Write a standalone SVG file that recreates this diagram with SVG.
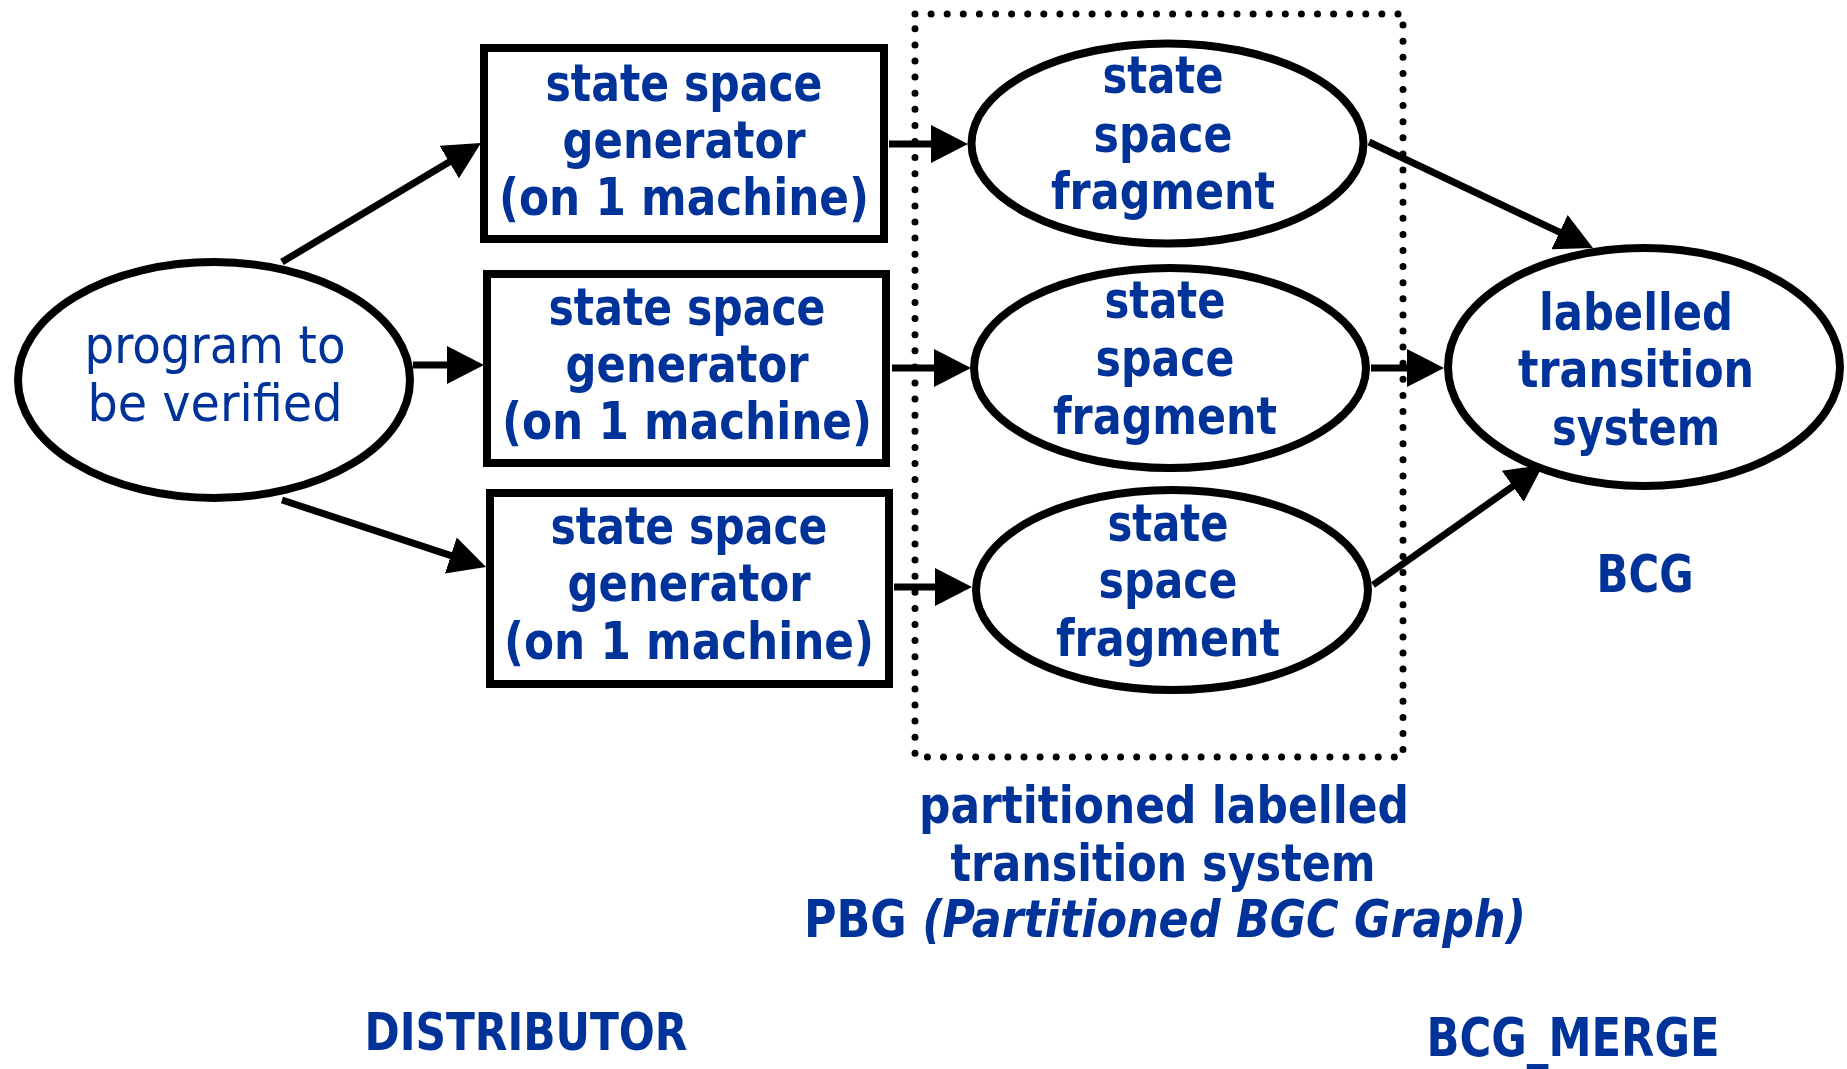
<svg xmlns="http://www.w3.org/2000/svg" width="1847" height="1069" viewBox="0 0 1847 1069">
  <style>
    .shape { fill: #ffffff; stroke: #000000; stroke-width: 8; }
    .edge { fill: none; stroke: #000000; stroke-width: 7; marker-end: url(#head); }
    .frame { fill: none; stroke: #000000; stroke-width: 7; stroke-linecap: round; stroke-dasharray: 0 16.1; }
    text { font-family: "DejaVu Sans Condensed", "DejaVu Sans", sans-serif; font-stretch: condensed; font-size: 51px; fill: #003399; text-anchor: middle; }
    .b { font-weight: bold; }
    .it { font-style: italic; }
  </style>
  <defs>
    <!-- filled arrowhead; the line stops 20px short of the tip -->
    <marker id="head" viewBox="0 0 37 38" refX="17" refY="19" markerWidth="37" markerHeight="38" markerUnits="userSpaceOnUse" orient="auto">
      <path d="M0,0 L37,19 L0,38 Z" fill="#000000"/>
    </marker>
  </defs>

  <rect width="1847" height="1069" fill="#ffffff"/>

  <!-- partition boundary around the fragments -->
  <rect id="partition" class="frame" x="915" y="14" width="488" height="743"/>

  <g id="connectors">
    <line class="edge" x1="282" y1="262" x2="463.8" y2="153.3"/>
    <line class="edge" x1="413" y1="365" x2="464" y2="365"/>
    <line class="edge" x1="282" y1="500" x2="467" y2="560.8"/>
    <line class="edge" x1="889" y1="144" x2="948" y2="144"/>
    <line class="edge" x1="892" y1="368" x2="951" y2="368"/>
    <line class="edge" x1="894" y1="587" x2="952" y2="587"/>
    <line class="edge" x1="1369" y1="142" x2="1574.9" y2="239.4"/>
    <line class="edge" x1="1371" y1="368" x2="1424" y2="368"/>
    <line class="edge" x1="1373" y1="585" x2="1526.7" y2="476.5"/>
  </g>

  <g id="program">
    <ellipse class="shape" cx="214" cy="380" rx="196" ry="118"/>
    <text x="215" y="363" textLength="261" lengthAdjust="spacingAndGlyphs">program to</text>
    <text x="215" y="421" textLength="255" lengthAdjust="spacingAndGlyphs">be verified</text>
  </g>

  <g id="generator1">
    <rect class="shape" x="484" y="48" width="400" height="191"/>
    <text class="b" x="684" y="101" textLength="277" lengthAdjust="spacingAndGlyphs">state space</text>
    <text class="b" x="684" y="158" textLength="243" lengthAdjust="spacingAndGlyphs">generator</text>
    <text class="b" x="684" y="215" textLength="370" lengthAdjust="spacingAndGlyphs">(on 1 machine)</text>
  </g>
  <g id="generator2">
    <rect class="shape" x="487" y="274" width="399" height="189"/>
    <text class="b" x="687" y="325" textLength="277" lengthAdjust="spacingAndGlyphs">state space</text>
    <text class="b" x="687" y="382" textLength="243" lengthAdjust="spacingAndGlyphs">generator</text>
    <text class="b" x="687" y="439" textLength="370" lengthAdjust="spacingAndGlyphs">(on 1 machine)</text>
  </g>
  <g id="generator3">
    <rect class="shape" x="490" y="493" width="399" height="191"/>
    <text class="b" x="689" y="544" textLength="277" lengthAdjust="spacingAndGlyphs">state space</text>
    <text class="b" x="689" y="601" textLength="243" lengthAdjust="spacingAndGlyphs">generator</text>
    <text class="b" x="689" y="659" textLength="370" lengthAdjust="spacingAndGlyphs">(on 1 machine)</text>
  </g>

  <g id="fragment1">
    <ellipse class="shape" cx="1167.5" cy="143.5" rx="196" ry="100"/>
    <text class="b" x="1163" y="93" textLength="121" lengthAdjust="spacingAndGlyphs">state</text>
    <text class="b" x="1163" y="152" textLength="139" lengthAdjust="spacingAndGlyphs">space</text>
    <text class="b" x="1163" y="209" textLength="224" lengthAdjust="spacingAndGlyphs">fragment</text>
  </g>
  <g id="fragment2">
    <ellipse class="shape" cx="1170" cy="368" rx="196" ry="100"/>
    <text class="b" x="1165" y="318" textLength="121" lengthAdjust="spacingAndGlyphs">state</text>
    <text class="b" x="1165" y="376" textLength="139" lengthAdjust="spacingAndGlyphs">space</text>
    <text class="b" x="1165" y="434" textLength="224" lengthAdjust="spacingAndGlyphs">fragment</text>
  </g>
  <g id="fragment3">
    <ellipse class="shape" cx="1172" cy="590" rx="196" ry="100"/>
    <text class="b" x="1168" y="541" textLength="121" lengthAdjust="spacingAndGlyphs">state</text>
    <text class="b" x="1168" y="598" textLength="139" lengthAdjust="spacingAndGlyphs">space</text>
    <text class="b" x="1168" y="656" textLength="224" lengthAdjust="spacingAndGlyphs">fragment</text>
  </g>

  <g id="lts">
    <ellipse class="shape" cx="1644" cy="367" rx="196" ry="119"/>
    <text class="b" x="1636" y="330" textLength="194" lengthAdjust="spacingAndGlyphs">labelled</text>
    <text class="b" x="1636" y="387" textLength="236" lengthAdjust="spacingAndGlyphs">transition</text>
    <text class="b" x="1636" y="445" textLength="168" lengthAdjust="spacingAndGlyphs">system</text>
  </g>

  <g id="captions">
    <text class="b" x="1645" y="592" textLength="97" lengthAdjust="spacingAndGlyphs">BCG</text>
    <text class="b" x="1164" y="823" textLength="490" lengthAdjust="spacingAndGlyphs">partitioned labelled</text>
    <text class="b" x="1163" y="881" textLength="425" lengthAdjust="spacingAndGlyphs">transition system</text>
    <text class="b" x="1165" y="937" textLength="722" lengthAdjust="spacingAndGlyphs">PBG <tspan class="it">(Partitioned BGC Graph)</tspan></text>
    <text class="b" x="526" y="1050" textLength="323" lengthAdjust="spacingAndGlyphs">DISTRIBUTOR</text>
    <text class="b" x="1573" y="1056" style="font-size:54px" textLength="293" lengthAdjust="spacingAndGlyphs">BCG_MERGE</text>
  </g>
</svg>
